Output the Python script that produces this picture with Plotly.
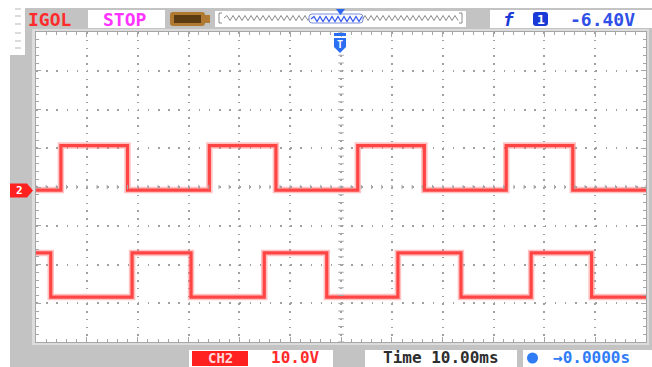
import numpy as np
import plotly.graph_objects as go

W, H = 652, 367
MONO = "DejaVu Sans Mono"

# ---- screen scales: 12 x 8 divisions, 10 ms/div, traces in divisions ----
t_range_ms = [-60.0, 60.0]
v_range_div = [-4.0, 4.0]

# channel 2 (upper square wave): edge times in ms, first edge is a rise
ch2_edges_ms = [-55.1, -42.0, -25.9, -12.8, 3.3, 16.4, 32.5, 45.6]
ch2_low_div = -0.08
ch2_high_div = 1.07
ch2_starts_high = False

# channel 1 (lower square wave): first edge is a fall
ch1_edges_ms = [-57.1, -41.1, -29.5, -15.1, -2.8, 11.2, 23.6, 37.4, 49.3]
ch1_low_div = -2.84
ch1_high_div = -1.70
ch1_starts_high = True

# status texts
brand_text = "IGOL"
run_state = "STOP"
trig_level = "-6.40V"
ch_name = "CH2"
ch_scale = "10.0V"
time_base = "Time 10.00ms"
trig_offset = "→0.0000s"

# plot area in page pixels
PX0, PX1 = 36, 646
PY0, PY1 = 32, 342


def step_series(edges, low, high, start_high, t0, t1):
    t = [t0]
    v = [high if start_high else low]
    level = start_high
    for e in edges:
        t += [e, e]
        v += [high if level else low, low if level else high]
        level = not level
    t.append(t1)
    v.append(high if level else low)
    return t, v


fig = go.Figure()

for edges, lo, hi, sh in [
    (ch2_edges_ms, ch2_low_div, ch2_high_div, ch2_starts_high),
    (ch1_edges_ms, ch1_low_div, ch1_high_div, ch1_starts_high),
]:
    t, v = step_series(edges, lo, hi, sh, *t_range_ms)
    fig.add_trace(go.Scatter(x=t, y=v, mode="lines",
                             line=dict(color="rgba(255,120,120,0.45)", width=6.5),
                             hoverinfo="skip"))
    fig.add_trace(go.Scatter(x=t, y=v, mode="lines",
                             line=dict(color="#ff4444", width=3.2),
                             hoverinfo="skip"))

# tick marks along the centre cross
minor_t = np.arange(-60, 60.01, 2.0)
minor_v = np.arange(-4, 4.001, 0.2)
fig.add_trace(go.Scatter(x=np.zeros_like(minor_v), y=minor_v, mode="markers",
                         marker=dict(symbol="line-ew", size=4,
                                     line=dict(color="#a8a8a8", width=1)),
                         hoverinfo="skip"))
fig.add_trace(go.Scatter(x=minor_t, y=np.zeros_like(minor_t), mode="markers",
                         marker=dict(symbol="line-ns", size=3,
                                     line=dict(color="#a8a8a8", width=1)),
                         hoverinfo="skip"))

# invisible pixel-space subplot used to place the on-screen furniture
fig.add_trace(go.Scatter(x=[0], y=[0], xaxis="x2", yaxis="y2", mode="markers",
                         marker=dict(size=1, color="rgba(0,0,0,0)"),
                         hoverinfo="skip"))

shapes = []
annotations = []


def paper_rect(x0, y0, x1, y1, fill):
    shapes.append(dict(type="rect", xref="paper", yref="paper", layer="below",
                       x0=x0 / W, x1=x1 / W, y0=1 - y1 / H, y1=1 - y0 / H,
                       fillcolor=fill, line=dict(width=0)))


def rect(x0, y0, x1, y1, fill, line_color=None, lw=0):
    shapes.append(dict(type="rect", xref="x2", yref="y2", layer="above",
                       x0=x0, x1=x1, y0=y0, y1=y1, fillcolor=fill,
                       line=dict(width=lw, color=line_color or fill)))


def path(d, fill=None, line_color=None, lw=0):
    shapes.append(dict(type="path", xref="x2", yref="y2", layer="above", path=d,
                       fillcolor=fill or "rgba(0,0,0,0)",
                       line=dict(width=lw, color=line_color or "rgba(0,0,0,0)")))


def label(text, x, y, color, size, bold=True, family=MONO, anchor="center"):
    annotations.append(dict(text=f"<b>{text}</b>" if bold else text, x=x, y=y,
                            xref="x2", yref="y2", showarrow=False,
                            xanchor=anchor, yanchor="middle", borderpad=0,
                            font=dict(family=family, size=size, color=color)))


GRAY = "#c3c3c3"
# bezel
paper_rect(10, 8, W, H, GRAY)
paper_rect(10, 8, 25, 55, "#ffffff")
paper_rect(32, 29, 649, 345, "#dcdcdc")
paper_rect(PX0 - 1, PY0 - 1, PX1 + 1, PY1 + 1, "#ffffff")

# faint ticks at the top-left corner
for yy in [9, 16, 24, 33, 41, 48]:
    shapes.append(dict(type="line", xref="x2", yref="y2", layer="above",
                       x0=15, x1=21, y0=yy, y1=yy,
                       line=dict(color="#b8b8b8", width=1)))

# ---- header ----
label(brand_text, 50, 19, "#ff2b2b", 18)
rect(88, 10, 165, 28, "#ffffff")
label(run_state, 125, 19.5, "#ff33ff", 18)

# battery-like acquisition icon
path("M 173,12 L 202,12 Q 205,12 205,15 L 205,23 Q 205,26 202,26 "
     "L 173,26 Q 170,26 170,23 L 170,15 Q 170,12 173,12 Z", fill="#b07a32")
rect(174, 15, 201, 23, "#5b3b12")
rect(205, 15, 210, 23, "#b07a32")

# memory window bar
rect(215, 11, 466, 27, "#ffffff")
wave = "M 224,18"
xw = 224.0
up = True
while xw < 456:
    xw += 3.0
    wave += f" L {xw:.1f},{15.5 if up else 20.5}"
    up = not up
path(wave, line_color="#8a8a8a", lw=1)
path("M 222,13 L 219,13 L 219,23 L 222,23", line_color="#8a8a8a", lw=1)
path("M 459,13 L 462,13 L 462,23 L 459,23", line_color="#8a8a8a", lw=1)
path("M 312,14 L 360,14 Q 363,14 363,17 L 363,20 Q 363,23 360,23 "
     "L 312,23 Q 309,23 309,20 L 309,17 Q 309,14 312,14 Z",
     fill="rgba(255,255,255,0.9)", line_color="#7b8fd8", lw=1)
wave_b = "M 311,19"
xw = 311.0
up = True
while xw < 360:
    xw += 3.0
    wave_b += f" L {xw:.1f},{16.5 if up else 21.5}"
    up = not up
path(wave_b, line_color="#3a5ef0", lw=1.3)
path("M 336,9 L 345,9 L 340.5,15 Z", fill="#2b66f0")

# trigger box
rect(490, 10, W, 28, "#ffffff")
label("<i>f</i>", 509, 19, "#1a3ad8", 18)
path("M 536,12 L 545,12 Q 548,12 548,15 L 548,23 Q 548,26 545,26 "
     "L 536,26 Q 533,26 533,23 L 533,15 Q 533,12 536,12 Z", fill="#1a3ad8")
label("1", 540.5, 19, "#ffffff", 13)
label(trig_level, 602, 19, "#3050e8", 18)

# trigger position marker at top of screen
rect(334, 33, 346, 36, "#2b6ef2")
path("M 334,38 L 346,38 L 346,47 L 340,53 L 334,47 Z", fill="#2b6ef2")
label("T", 340, 44, "#ffffff", 10)

# channel ground marker on the left
path("M 10,183.5 L 27,183.5 L 33,190.5 L 27,197.5 L 10,197.5 Z", fill="#ff2020")
label("2", 19, 190.5, "#ffffff", 11)

# ---- footer ----
rect(189, 350, 333, H, "#ffffff")
rect(192, 351, 248, 366, "#ff2020")
label(ch_name, 220, 358, "#ffd8d8", 14)
label(ch_scale, 295, 357.5, "#ff2b2b", 16)
rect(365, 350, 517, H, "#ffffff")
label(time_base, 441, 357.5, "#2e2e2e", 16)
rect(523, 350, W, H, "#ffffff")
shapes.append(dict(type="circle", xref="x2", yref="y2", layer="above",
                   x0=527, x1=538, y0=352.5, y1=363.5, fillcolor="#2f7cf6",
                   line=dict(width=0)))
label(trig_offset, 591, 357.5, "#2f7cf6", 16)

axis_common = dict(showticklabels=False, zeroline=False, fixedrange=True,
                   showline=True, linecolor="#a6a6a6", linewidth=1,
                   mirror="ticks", ticks="inside", ticklen=5, tickcolor="#a6a6a6",
                   gridcolor="#a0a0a0", gridwidth=1.5)

fig.update_layout(
    width=W, height=H,
    margin=dict(l=0, r=0, t=0, b=0),
    paper_bgcolor="#ffffff",
    plot_bgcolor="rgba(0,0,0,0)",
    showlegend=False,
    hovermode=False,
    xaxis=dict(range=t_range_ms, domain=[PX0 / W, PX1 / W], dtick=10, tick0=0,
               griddash="1.5px,6.25px",
               minor=dict(dtick=2, ticks="inside", ticklen=3, tickcolor="#a6a6a6",
                          showgrid=False),
               **axis_common),
    yaxis=dict(range=v_range_div, domain=[1 - PY1 / H, 1 - PY0 / H], dtick=1, tick0=0,
               griddash="1.5px,8.67px",
               minor=dict(dtick=0.2, ticks="inside", ticklen=3, tickcolor="#a6a6a6",
                          showgrid=False),
               **axis_common),
    xaxis2=dict(range=[0, W], domain=[0, 1], anchor="y2", visible=False,
                fixedrange=True),
    yaxis2=dict(range=[H, 0], domain=[0, 1], anchor="x2", visible=False,
                fixedrange=True),
    shapes=shapes,
    annotations=annotations,
)

fig.write_html("out.html", config={"displayModeBar": False})
